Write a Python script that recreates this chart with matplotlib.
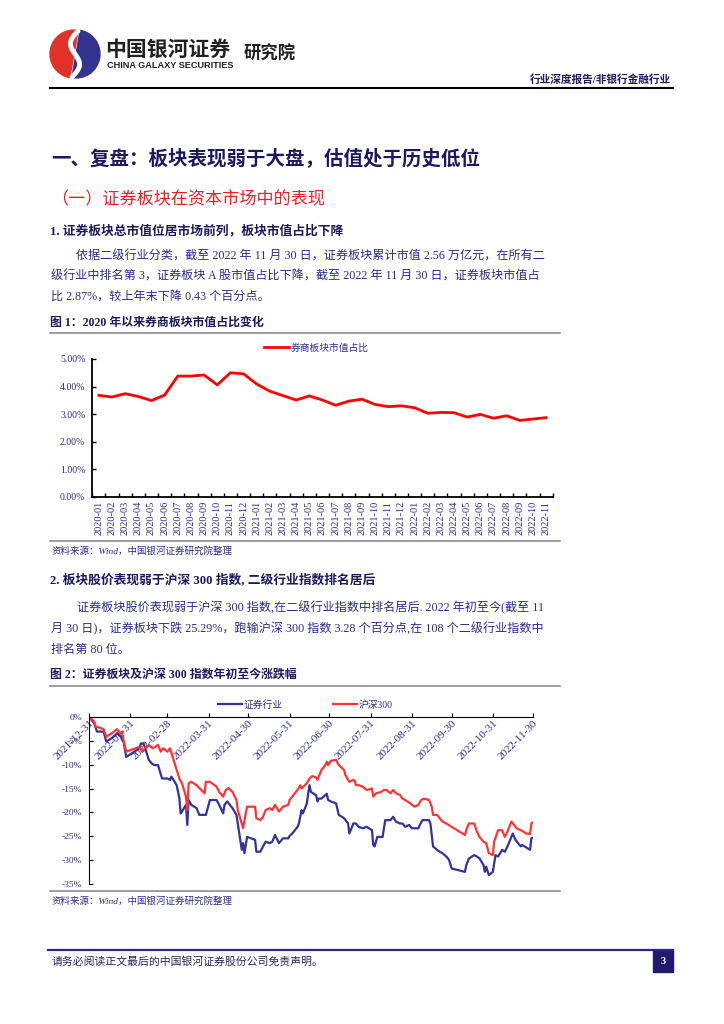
import matplotlib
matplotlib.use("Agg")
import matplotlib.pyplot as plt
import matplotlib.dates as mdates
import matplotlib.patches as mpatches
import numpy as np
import pandas as pd

plt.rcParams['font.family'] = ['Liberation Serif', 'Noto Sans CJK SC']
plt.rcParams['axes.unicode_minus'] = False

NAVY = '#2d2d8a'
DARK = '#1c1a5c'
RED_TXT = '#ee1c25'

# ---- chart 1: 券商板块市值占比 (monthly, %) ----
months = [str(p) for p in pd.period_range('2020-01', '2022-11', freq='M')]
share = [3.68, 3.62, 3.74, 3.64, 3.49, 3.69, 4.38, 4.38, 4.42, 4.06, 4.50, 4.46,
         4.09, 3.83, 3.67, 3.51, 3.66, 3.51, 3.32, 3.47, 3.54, 3.35, 3.27, 3.30,
         3.23, 3.03, 3.06, 3.05, 2.89, 2.99, 2.85, 2.94, 2.77, 2.82, 2.87]

# ---- chart 2: 年初至今涨跌幅 (%) ----
hs_dates = ["2021-12-31", "2022-01-04", "2022-01-05", "2022-01-07", "2022-01-11", "2022-01-13",
            "2022-01-17", "2022-01-19", "2022-01-21", "2022-01-24", "2022-01-25", "2022-01-26",
            "2022-01-28", "2022-02-07", "2022-02-09", "2022-02-11", "2022-02-14", "2022-02-17",
            "2022-02-21", "2022-02-23", "2022-02-25", "2022-02-28", "2022-03-02", "2022-03-04",
            "2022-03-07", "2022-03-09", "2022-03-11", "2022-03-14", "2022-03-15", "2022-03-16",
            "2022-03-18", "2022-03-22", "2022-03-28", "2022-03-29", "2022-04-01", "2022-04-06",
            "2022-04-08", "2022-04-11", "2022-04-13", "2022-04-15", "2022-04-18", "2022-04-21",
            "2022-04-22", "2022-04-26", "2022-04-28", "2022-04-29", "2022-05-05", "2022-05-06",
            "2022-05-09", "2022-05-11", "2022-05-13", "2022-05-16", "2022-05-18", "2022-05-20",
            "2022-05-23", "2022-05-26", "2022-05-30", "2022-05-31", "2022-06-02", "2022-06-06",
            "2022-06-08", "2022-06-09", "2022-06-13", "2022-06-15", "2022-06-17", "2022-06-20",
            "2022-06-21", "2022-06-24", "2022-06-27", "2022-06-28", "2022-06-29", "2022-07-01",
            "2022-07-05", "2022-07-07", "2022-07-11", "2022-07-12", "2022-07-15", "2022-07-18",
            "2022-07-19", "2022-07-20", "2022-07-22", "2022-07-25", "2022-07-28", "2022-08-01",
            "2022-08-02", "2022-08-04", "2022-08-08", "2022-08-10", "2022-08-12", "2022-08-15",
            "2022-08-17", "2022-08-19", "2022-08-22", "2022-08-24", "2022-08-26", "2022-08-30",
            "2022-09-02", "2022-09-05", "2022-09-07", "2022-09-09", "2022-09-13", "2022-09-15",
            "2022-09-16", "2022-09-19", "2022-09-21", "2022-09-23", "2022-09-26", "2022-09-30",
            "2022-10-10", "2022-10-11", "2022-10-13", "2022-10-17", "2022-10-19", "2022-10-21",
            "2022-10-24", "2022-10-26", "2022-10-28", "2022-10-31", "2022-11-01", "2022-11-04",
            "2022-11-07", "2022-11-09", "2022-11-11", "2022-11-14", "2022-11-16", "2022-11-18",
            "2022-11-21", "2022-11-23", "2022-11-25", "2022-11-28", "2022-11-29", "2022-11-30"]
hs_vals = [0, -1.0, -2.1, -2.2, -2.6, -4.2,
           -3.5, -3.1, -2.6, -3.5, -3.1, -4.9,
           -7.3, -6.3, -7.3, -6.6, -5.9, -6.6,
           -5.9, -7.3, -6.6, -7.3, -6.6, -8.4,
           -11.1, -12.9, -13.9, -16.7, -19.5, -13.9,
           -13.6, -14.3, -16.0, -13.6, -13.6, -14.6,
           -15.7, -16.7, -15.3, -14.9, -15.7, -17.4,
           -19.5, -23.3, -20.2, -18.8, -18.8, -21.2,
           -21.6, -20.9, -19.5, -19.1, -19.5, -18.4,
           -19.8, -18.8, -18.4, -17.4, -16.7, -15.3,
           -14.3, -15.0, -13.9, -12.9, -12.4, -12.7,
           -13.2, -11.1, -10.1, -9.4, -10.1, -9.2,
           -9.0, -10.1, -11.1, -12.2, -13.6, -13.2,
           -13.4, -14.3, -14.3, -14.6, -15.3, -15.0,
           -16.7, -16.0, -15.7, -15.3, -15.3, -16.0,
           -15.3, -16.0, -16.3, -17.1, -17.4, -18.1,
           -18.8, -18.4, -17.4, -17.1, -17.4, -18.8,
           -20.5, -20.5, -21.2, -21.9, -22.3, -23.0,
           -24.7, -23.7, -22.3, -22.3, -24.0, -25.1,
           -26.1, -26.4, -28.5, -28.9, -26.1, -23.7,
           -23.7, -25.1, -24.0, -21.9, -22.6, -23.3,
           -23.7, -24.0, -24.4, -24.5, -22.3, -22.1]

sec_dates = ["2021-12-31", "2022-01-04", "2022-01-06", "2022-01-07", "2022-01-11", "2022-01-13",
             "2022-01-17", "2022-01-20", "2022-01-21", "2022-01-24", "2022-01-25", "2022-01-26",
             "2022-01-28", "2022-02-07", "2022-02-08", "2022-02-10", "2022-02-11", "2022-02-14",
             "2022-02-16", "2022-02-18", "2022-02-21", "2022-02-22", "2022-02-24", "2022-02-28",
             "2022-03-02", "2022-03-03", "2022-03-07", "2022-03-09", "2022-03-10", "2022-03-11",
             "2022-03-14", "2022-03-15", "2022-03-16", "2022-03-18", "2022-03-22", "2022-03-24",
             "2022-03-28", "2022-03-29", "2022-04-01", "2022-04-06", "2022-04-08", "2022-04-11",
             "2022-04-12", "2022-04-14", "2022-04-18", "2022-04-21", "2022-04-22", "2022-04-25",
             "2022-04-26", "2022-04-27", "2022-04-29", "2022-05-05", "2022-05-06", "2022-05-09",
             "2022-05-11", "2022-05-13", "2022-05-16", "2022-05-18", "2022-05-20", "2022-05-23",
             "2022-05-26", "2022-05-30", "2022-05-31", "2022-06-02", "2022-06-06", "2022-06-07",
             "2022-06-09", "2022-06-10", "2022-06-13", "2022-06-14", "2022-06-15", "2022-06-16",
             "2022-06-20", "2022-06-21", "2022-06-22", "2022-06-24", "2022-06-28", "2022-06-29",
             "2022-07-01", "2022-07-05", "2022-07-07", "2022-07-11", "2022-07-14", "2022-07-15",
             "2022-07-18", "2022-07-20", "2022-07-22", "2022-07-25", "2022-07-28", "2022-08-01",
             "2022-08-02", "2022-08-03", "2022-08-05", "2022-08-09", "2022-08-11", "2022-08-15",
             "2022-08-16", "2022-08-17", "2022-08-19", "2022-08-22", "2022-08-24", "2022-08-26",
             "2022-08-29", "2022-08-31", "2022-09-05", "2022-09-06", "2022-09-08", "2022-09-13",
             "2022-09-14", "2022-09-16", "2022-09-19", "2022-09-21", "2022-09-23", "2022-09-26",
             "2022-09-28", "2022-09-30", "2022-10-10", "2022-10-11", "2022-10-13", "2022-10-17",
             "2022-10-19", "2022-10-21", "2022-10-24", "2022-10-25", "2022-10-26", "2022-10-28",
             "2022-10-31", "2022-11-02", "2022-11-04", "2022-11-07", "2022-11-09", "2022-11-11",
             "2022-11-14", "2022-11-15", "2022-11-17", "2022-11-21", "2022-11-22", "2022-11-24",
             "2022-11-28", "2022-11-29", "2022-11-30"]
sec_vals = [0, -1.4, -3.1, -3.1, -3.1, -5.2,
            -4.5, -3.8, -3.5, -4.2, -4.9, -5.2,
            -8.4, -6.6, -5.6, -5.6, -6.3, -9.0,
            -9.7, -10.1, -10.1, -11.1, -12.9, -12.9,
            -13.2, -12.5, -14.3, -17.0, -20.2, -19.8,
            -18.4, -22.6, -17.4, -18.4, -19.1, -20.5,
            -20.5, -20.5, -17.4, -17.4, -18.4, -20.2,
            -18.4, -17.7, -19.1, -20.5, -22.3, -27.8,
            -26.4, -28.5, -25.1, -25.7, -28.2, -28.2,
            -27.1, -26.1, -26.4, -26.1, -24.7, -26.4,
            -25.4, -25.4, -24.9, -24.4, -23.0, -22.3,
            -19.5, -20.2, -18.1, -16.0, -14.3, -15.7,
            -16.4, -17.7, -17.1, -17.1, -16.1, -17.4,
            -17.7, -18.1, -20.5, -21.2, -22.3, -24.4,
            -22.3, -22.3, -23.0, -23.3, -23.0, -23.7,
            -26.8, -27.1, -25.1, -25.1, -21.6, -21.6,
            -21.2, -20.9, -21.9, -22.3, -22.3, -23.0,
            -22.6, -23.3, -23.3, -22.6, -21.6, -21.6,
            -22.3, -27.1, -27.8, -28.2, -28.5, -29.2,
            -29.9, -31.7, -32.4, -31.0, -29.6, -28.9,
            -29.2, -29.6, -31.0, -32.4, -31.3, -33.1,
            -32.4, -28.9, -29.2, -27.8, -28.2, -27.1,
            -25.1, -24.4, -25.7, -27.1, -26.8, -27.1,
            -27.8, -25.4, -25.3]

tick_dates = ["2021-12-31", "2022-01-31", "2022-02-28", "2022-03-31", "2022-04-30", "2022-05-31",
              "2022-06-30", "2022-07-31", "2022-08-31", "2022-09-30", "2022-10-31", "2022-11-30"]

W, H = 724, 1024
fig = plt.figure(figsize=(W / 100, H / 100), dpi=100)
pg = fig.add_axes([0, 0, 1, 1])
pg.set_xlim(0, W)
pg.set_ylim(H, 0)
pg.axis('off')


def box(x0, y_top, x1, y_bot):
    # pixel box -> figure fraction rect
    return [x0 / W, 1 - y_bot / H, (x1 - x0) / W, (y_bot - y_top) / H]


# ---- header / logo ----
pg.add_patch(mpatches.Wedge((74, 54), 24, 100, 280, color='#e2302b'))
pg.add_patch(mpatches.Wedge((76, 54), 24, -80, 100, color='#33348e'))
t = np.linspace(0, 1, 40)
pg.plot(78 - 6 * np.sin(t * 2 * np.pi) - 6 * t, 31 + 46 * t, color='white', lw=3.5, solid_capstyle='round')
pg.text(105, 49, '中国银河证券', fontsize=15, fontweight='bold', family='Noto Sans CJK SC',
        color='#231f20', va='center')
pg.text(107, 65.5, 'CHINA GALAXY SECURITIES', fontsize=6.6, fontweight='bold', family='Liberation Sans',
        color='#231f20', va='center')
pg.text(244, 54, '研究院', fontsize=12.5, fontweight='bold', family='Noto Sans CJK SC',
        color='#231f20', va='center')
pg.text(671, 80, '行业深度报告/非银行金融行业', fontsize=7.7, fontweight='bold', color=DARK,
        ha='right', va='center')
pg.plot([50, 673], [88, 88], color='black', lw=1.5)

# ---- headings and body ----
pg.text(51, 158, '一、复盘：板块表现弱于大盘，估值处于历史低位', fontsize=14, fontweight='bold',
        color=DARK, va='center')
pg.text(51, 200, '（一）证券板块在资本市场中的表现', fontsize=12.3, color=RED_TXT, va='center')
pg.text(50, 231, '1. 证券板块总市值位居市场前列，板块市值占比下降', fontsize=9.2, fontweight='bold',
        color=DARK, va='center')

para1 = ['依据二级行业分类，截至 2022 年 11 月 30 日，证券板块累计市值 2.56 万亿元，在所有二',
         '级行业中排名第 3，证券板块 A 股市值占比下降，截至 2022 年 11 月 30 日，证券板块市值占',
         '比 2.87%，较上年末下降 0.43 个百分点。']
for i, line in enumerate(para1):
    pg.text(76 if i == 0 else 51, 256 + 20.5 * i, line, fontsize=8.7, color=NAVY, va='center')

pg.text(50, 323, '图 1：2020 年以来券商板块市值占比变化', fontsize=8.6, fontweight='bold',
        color=DARK, va='center')

pg.text(50, 580, '2. 板块股价表现弱于沪深 300 指数, 二级行业指数排名居后', fontsize=9.2,
        fontweight='bold', color=DARK, va='center')
para2 = ['证券板块股价表现弱于沪深 300 指数,在二级行业指数中排名居后. 2022 年初至今(截至 11',
         '月 30 日)，证券板块下跌 25.29%，跑输沪深 300 指数 3.28 个百分点,在 108 个二级行业指数中',
         '排名第 80 位。']
for i, line in enumerate(para2):
    pg.text(77 if i == 0 else 51, 608 + 21 * i, line, fontsize=8.7, color=NAVY, va='center')

pg.text(50, 675, '图 2：证券板块及沪深 300 指数年初至今涨跌幅', fontsize=8.6, fontweight='bold',
        color=DARK, va='center')

for yy in (333, 541, 686, 891):
    pg.plot([50, 560], [yy, yy], color='#8c8c8c', lw=1.2)

for yy in (551, 901):
    pg.text(52, yy, '资料来源：Wind，中国银河证券研究院整理', fontsize=6.8, style='italic',
            color=NAVY, va='center')

# footer
pg.plot([48, 673], [950, 950], color='#2b2680', lw=1.6)
pg.text(52, 961, '请务必阅读正文最后的中国银河证券股份公司免责声明。', fontsize=7.8,
        color='#26265a', va='center')
pg.add_patch(mpatches.Rectangle((653, 950), 20, 22, color='#1f1a6e'))
pg.text(663, 961, '3', fontsize=7.5, fontweight='bold', color='white', ha='center', va='center')

# ---- chart 1 ----
ax1 = fig.add_axes(box(92.3, 359, 552.7, 496.7))
ax1.patch.set_alpha(0)
x1 = np.arange(len(months))
ax1.plot(x1, share, color='#ff0000', lw=2.0, label='券商板块市值占比')
ax1.set_xlim(-0.5, len(months) - 0.5)
ax1.set_ylim(0, 5)
ax1.set_yticks(np.arange(0, 5.01, 1))
ax1.set_yticklabels(['%.2f%%' % v for v in np.arange(0, 5.01, 1)], fontsize=7, color=NAVY)
ax1.set_xticks(x1)
ax1.set_xticklabels(months, rotation=90, fontsize=7.5, color=NAVY)
ax1.set_xticks(np.arange(-0.5, len(months)), minor=True)
ax1.tick_params(axis='x', which='major', length=0, pad=3)
ax1.tick_params(axis='x', which='minor', direction='in', length=3, width=1)
ax1.tick_params(axis='y', direction='in', length=3, width=1, pad=5)
for s in ('top', 'right'):
    ax1.spines[s].set_visible(False)
for s in ('left', 'bottom'):
    ax1.spines[s].set_linewidth(1.3)
leg1 = ax1.legend(loc='center', bbox_to_anchor=(0.487, 1.08), frameon=False, fontsize=7,
                  handlelength=2.6, handletextpad=0.2)
for txt in leg1.get_texts():
    txt.set_color(NAVY)

# ---- chart 2 ----
ax2 = fig.add_axes(box(89, 716.7, 532.7, 884.3))
ax2.patch.set_alpha(0)
ax2.plot(pd.to_datetime(sec_dates), sec_vals, color='#333399', lw=1.6, label='证券行业')
ax2.plot(pd.to_datetime(hs_dates), hs_vals, color='#ff3333', lw=1.6, label='沪深300')
ax2.set_xlim(pd.Timestamp(tick_dates[0]), pd.Timestamp(tick_dates[-1]))
ax2.set_ylim(-35, 0)
ax2.set_yticks(np.arange(-35, 1, 5))
ax2.set_yticklabels(['%d%%' % v for v in np.arange(-35, 1, 5)], fontsize=6.8, color=NAVY)
ax2.set_xticks(pd.to_datetime(tick_dates))
ax2.xaxis.set_major_formatter(mdates.DateFormatter('%Y-%m-%d'))
ax2.spines['bottom'].set_position(('data', 0))
for s in ('top', 'right'):
    ax2.spines[s].set_visible(False)
ax2.tick_params(axis='x', direction='in', length=3, pad=1.5, labelsize=8, labelcolor=NAVY)
ax2.tick_params(axis='y', direction='in', length=3, pad=5)
for lab in ax2.get_xticklabels():
    lab.set_rotation(45)
    lab.set_rotation_mode('anchor')
    lab.set_ha('right')
    lab.set_va('top')
leg2 = ax2.legend(loc='center', bbox_to_anchor=(0.488, 1.07), ncol=2, frameon=False, fontsize=7,
                  handlelength=2.4, handletextpad=0.2, columnspacing=5.2)
for txt in leg2.get_texts():
    txt.set_color(NAVY)

fig.savefig('out.png', dpi=100)
